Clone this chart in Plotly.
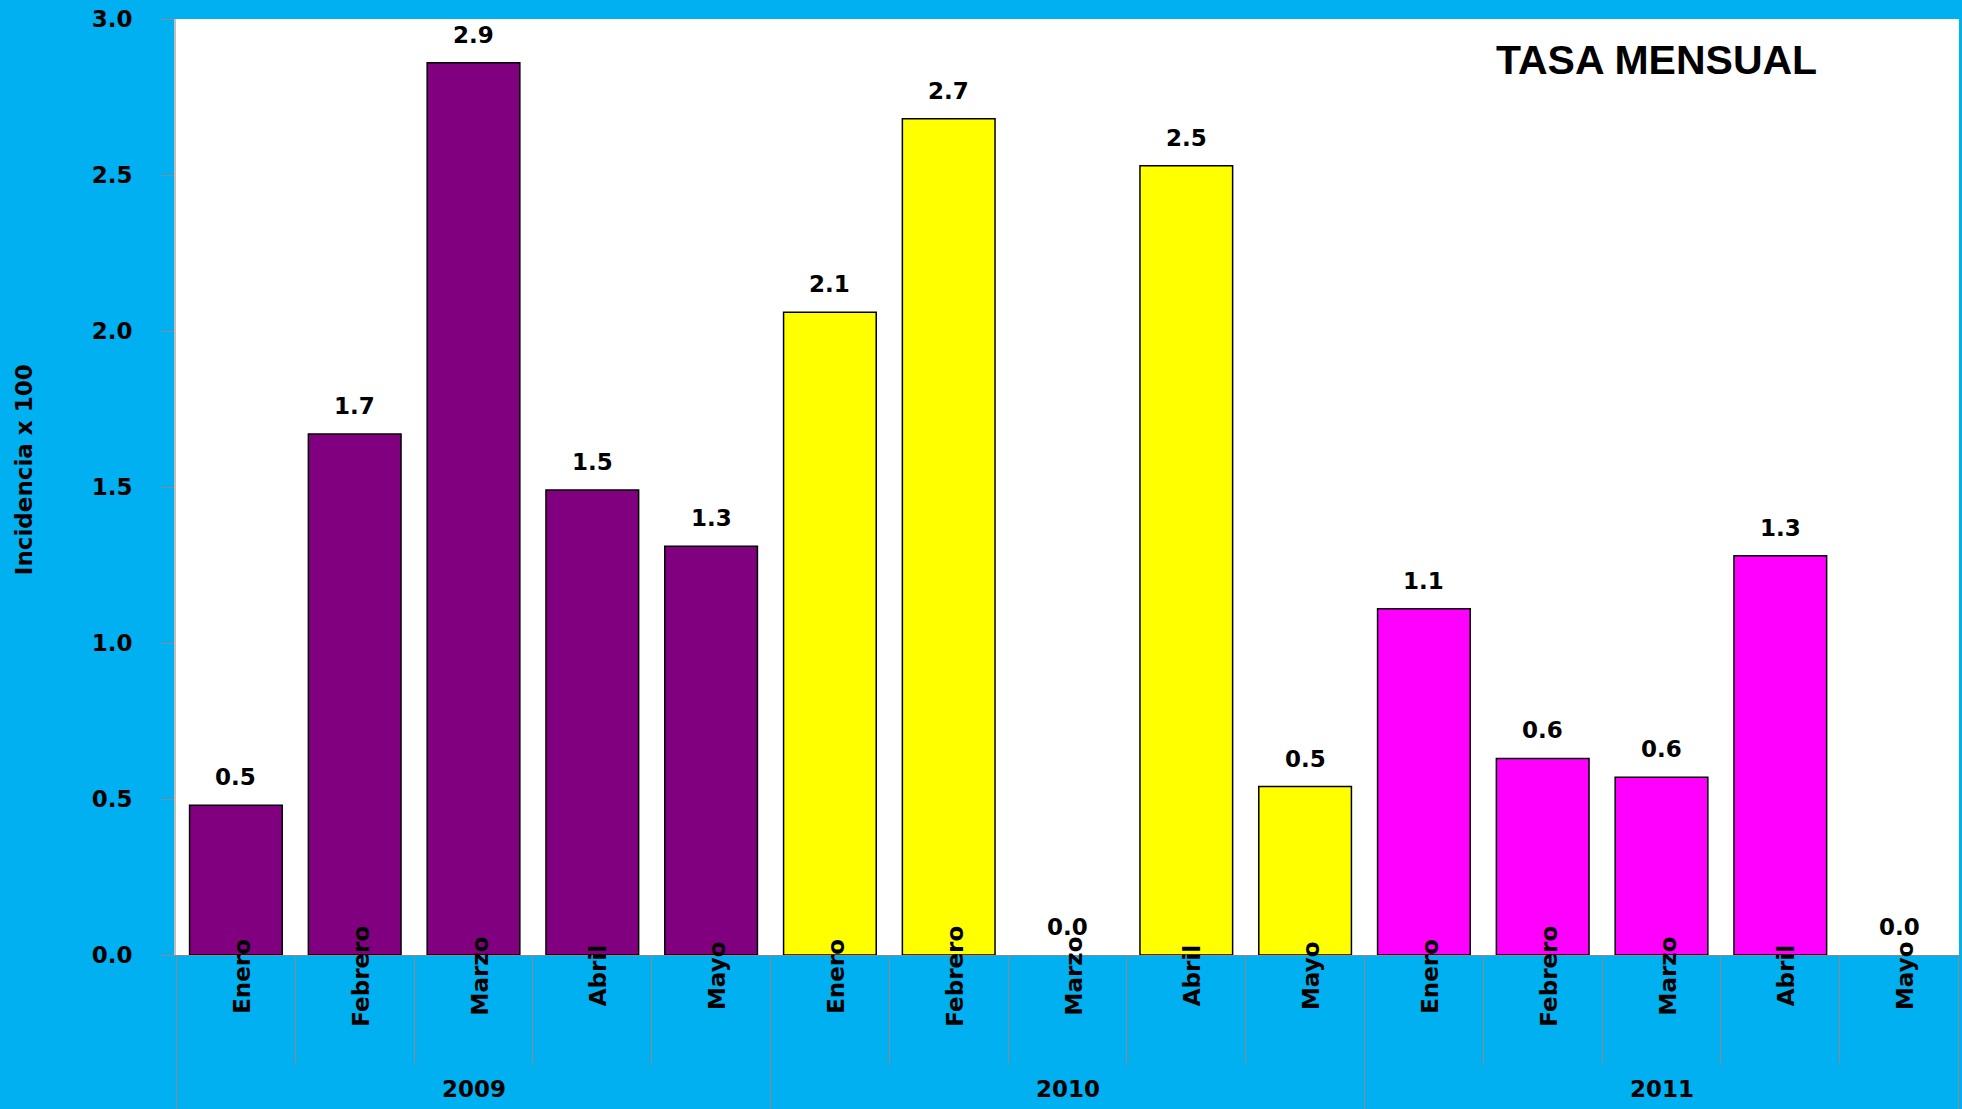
import plotly.graph_objects as go

years = ["2009", "2010", "2011"]
months = ["Enero", "Febrero", "Marzo", "Abril", "Mayo"]
rates_2009 = [0.48, 1.67, 2.86, 1.49, 1.31]
rates_2010 = [2.06, 2.68, 0.0, 2.53, 0.54]
rates_2011 = [1.11, 0.63, 0.57, 1.28, 0.0]
year_colors = ["#800080", "#FFFF00", "#FF00FF"]
y_ticks = [0.0, 0.5, 1.0, 1.5, 2.0, 2.5, 3.0]
chart_title = "TASA MENSUAL"
y_title = "Incidencia x 100"

series = [rates_2009, rates_2010, rates_2011]
BG = "#00B0F0"
LBL_FONT = dict(family="DejaVu Sans", size=23, color="black", weight="bold")

fig = go.Figure()
all_cats = []
for yr, vals, col in zip(years, series, year_colors):
    cats = [f"{m} {yr}" for m in months]
    all_cats += cats
    fig.add_trace(go.Bar(x=cats, y=vals,
                         marker=dict(color=col, line=dict(color="black",
                                                          width=[1.5 if v > 0 else 0 for v in vals])),
                         showlegend=False, hoverinfo="x+y"))
    for c, v in zip(cats, vals):
        fig.add_annotation(x=c, y=v, xref="x", yref="y", text=f"{v:.1f}", showarrow=False,
                           yanchor="middle", yshift=28, font=LBL_FONT)

# month labels (rotated, centred just under the zero line)
for yr in years:
    for m in months:
        fig.add_annotation(x=f"{m} {yr}", y=-0.0224, xref="x", yref="paper", text=m, textangle=-90,
                           showarrow=False, xanchor="center", yanchor="middle", xshift=6, font=LBL_FONT)

# year labels and year dividers
n = len(months)
for i, yr in enumerate(years):
    fig.add_annotation(x=f"{months[n // 2]} {yr}", y=-0.1432, xref="x", yref="paper", text=yr,
                       showarrow=False, xanchor="center", yanchor="middle", font=LBL_FONT)
for i in range(len(years) + 1):
    fig.add_shape(type="line", xref="x", yref="paper", x0=i * n - 0.5, x1=i * n - 0.5, y0=0, y1=-0.17,
                  line=dict(color="#8a8a8a", width=1))

fig.add_annotation(x=0.8306, y=0.956, xref="paper", yref="paper", text=chart_title, showarrow=False,
                   xanchor="center", yanchor="middle",
                   font=dict(family="Liberation Sans", size=41, color="black", weight="bold"))
fig.add_annotation(x=-0.0853, y=0.519, xref="paper", yref="paper", text=y_title, textangle=-90,
                   showarrow=False, xanchor="center", yanchor="middle",
                   font=dict(family="DejaVu Sans", size=23, color="black", weight="bold"))

fig.update_layout(
    width=1962, height=1109,
    margin=dict(l=176, r=3, t=19, b=154),
    paper_bgcolor=BG, plot_bgcolor="white",
    bargap=0.22,
)
fig.update_xaxes(type="category", categoryorder="array", categoryarray=all_cats,
                 showticklabels=False, ticks="outside", tickson="boundaries", ticklen=109,
                 tickcolor="#8a8a8a", tickwidth=1, showline=True, linecolor="#8a8a8a", linewidth=1,
                 showgrid=False, zeroline=False)
fig.update_yaxes(range=[0, 3.0], tickvals=y_ticks, ticktext=[f"{t:.1f}" for t in y_ticks],
                 ticks="outside", ticklen=13, tickcolor="#8a8a8a", tickwidth=1,
                 showline=True, linecolor="#bfbfbf", linewidth=2, showgrid=False, zeroline=False,
                 tickfont=LBL_FONT, ticklabelstandoff=24)

fig.write_html("out.html", config={"displayModeBar": False},
               post_script="document.body.style.margin='0';document.body.style.padding='0';"
                           "document.body.style.background='" + BG + "';")
